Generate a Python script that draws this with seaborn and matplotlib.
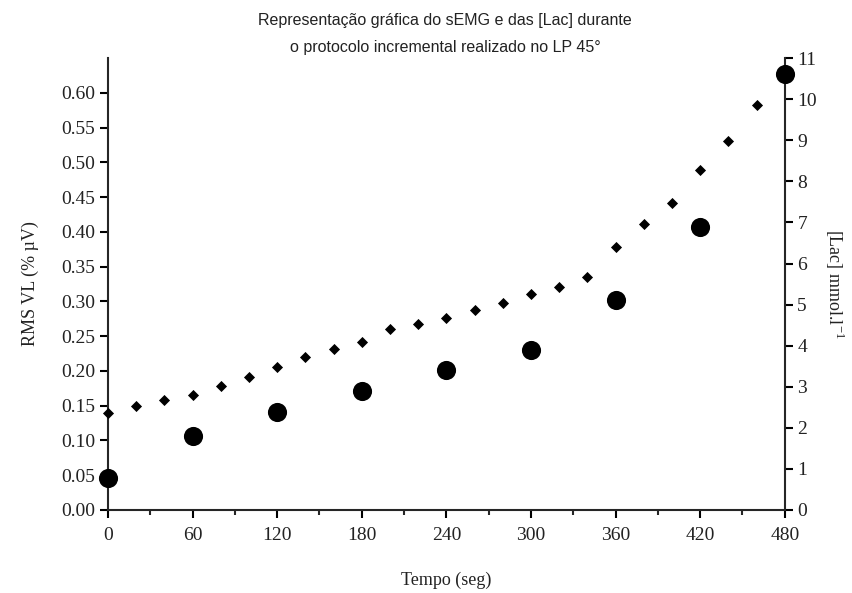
import numpy as np
import pandas as pd
import seaborn as sns
from matplotlib import pyplot as plt
from matplotlib.ticker import MultipleLocator, FormatStrFormatter

# RMS do VL a cada 20 s (eixo esquerdo)
tempo_rms = [0, 20, 40, 60, 80, 100, 120, 140, 160, 180, 200, 220,
             240, 260, 280, 300, 320, 340, 360, 380, 400, 420, 440, 460]
rms_vl = [0.139, 0.150, 0.158, 0.165, 0.178, 0.191, 0.205, 0.220, 0.232, 0.241, 0.261, 0.268,
          0.276, 0.288, 0.298, 0.310, 0.321, 0.335, 0.378, 0.411, 0.442, 0.489, 0.531, 0.583]

# lactato a cada 60 s (eixo direito)
tempo_lac = [0, 60, 120, 180, 240, 300, 360, 420, 480]
lactato = [0.79, 1.79, 2.39, 2.89, 3.40, 3.89, 5.10, 6.89, 10.61]

x_ticks = [0, 60, 120, 180, 240, 300, 360, 420, 480]

df_rms = pd.DataFrame({'tempo': tempo_rms, 'rms': rms_vl})
df_lac = pd.DataFrame({'tempo': tempo_lac, 'lac': lactato})

sns.set_style('ticks')
plt.rcParams['font.family'] = ['Liberation Serif', 'DejaVu Serif']
plt.rcParams['mathtext.fontset'] = 'custom'
plt.rcParams['mathtext.rm'] = 'Liberation Serif'
plt.rcParams['axes.linewidth'] = 1.5

f = plt.figure(figsize=(8.53, 5.93), dpi=100)
ax = f.add_axes([0.1266, 0.140, 0.7934, 0.762])
ax2 = ax.twinx()

sns.scatterplot(data=df_rms, x='tempo', y='rms', ax=ax, marker='D', s=32,
                color='black', edgecolor='black', linewidth=0, clip_on=False, zorder=3)
sns.scatterplot(data=df_lac, x='tempo', y='lac', ax=ax2, marker='o', s=190,
                color='black', edgecolor='black', linewidth=0, clip_on=False, zorder=3)

ax.set_xlim(0, 480)
ax.set_ylim(0, 0.65)
ax2.set_ylim(0, 11)

ax.set_xticks(x_ticks)
ax.xaxis.set_minor_locator(MultipleLocator(30))
ax.set_yticks(np.arange(0, 0.601, 0.05))
ax.yaxis.set_major_formatter(FormatStrFormatter('%.2f'))
ax2.set_yticks(range(0, 12))

for a in (ax, ax2):
    a.spines['top'].set_visible(False)
    a.tick_params(which='major', length=6, width=1.5, direction='out',
                  labelsize=14, colors='black', labelcolor='#222222', pad=3)
    a.tick_params(which='minor', length=3.5, width=1.5, direction='out')
ax.tick_params(axis='x', pad=6)
ax.spines['right'].set_visible(False)
ax2.spines['left'].set_visible(False)
ax2.spines['bottom'].set_visible(False)

ax.set_xlabel('Tempo (seg)', fontsize=13, color='#222222', labelpad=20)
ax.set_ylabel('RMS VL (% µV)', fontsize=13, color='#222222', labelpad=16)
ax2.set_ylabel(r'[Lac] mmol.l$^{-1}$', fontsize=13, color='#222222',
               rotation=270, labelpad=21)

f.suptitle('Representação gráfica do sEMG e das [Lac] durante\n'
           'o protocolo incremental realizado no LP 45°',
           x=0.522, y=0.978, fontsize=11.5, color='#222222',
           family=['Liberation Sans', 'DejaVu Sans'], linespacing=2.0)

f.savefig('out.png', dpi=100)
